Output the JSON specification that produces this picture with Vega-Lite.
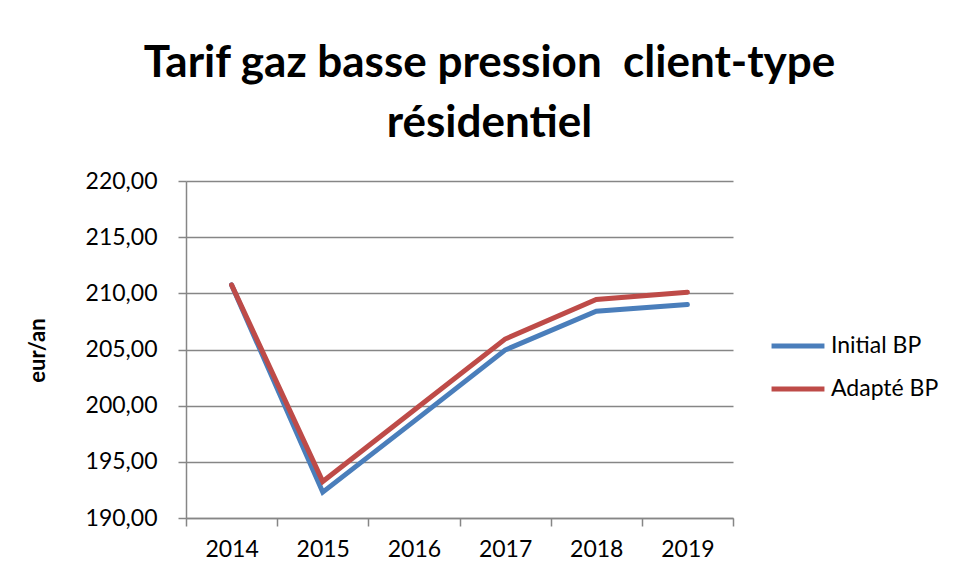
{
  "$schema": "https://vega.github.io/schema/vega-lite/v6.json",
  "autosize": {"type": "none"},
  "width": 547,
  "height": 337,
  "padding": {"left": 186, "top": 181, "right": 223, "bottom": 61},
  "background": "white",
  "title": {
    "text": ["Tarif gaz basse pression \u00a0client-type", "résidentiel"],
    "anchor": "middle",
    "frame": "group",
    "dx": 30,
    "offset": 24,
    "font": "Lato",
    "fontSize": 44,
    "fontWeight": "bold",
    "lineHeight": 60,
    "color": "black"
  },
  "data": {
    "values": [
      {"annee": "2014", "serie": "Initial BP", "valeur": 210.75},
      {"annee": "2015", "serie": "Initial BP", "valeur": 192.3},
      {"annee": "2016", "serie": "Initial BP", "valeur": 198.6},
      {"annee": "2017", "serie": "Initial BP", "valeur": 204.95},
      {"annee": "2018", "serie": "Initial BP", "valeur": 208.4},
      {"annee": "2019", "serie": "Initial BP", "valeur": 209.0},
      {"annee": "2014", "serie": "Adapté BP", "valeur": 210.75},
      {"annee": "2015", "serie": "Adapté BP", "valeur": 193.25},
      {"annee": "2016", "serie": "Adapté BP", "valeur": 199.6},
      {"annee": "2017", "serie": "Adapté BP", "valeur": 205.93},
      {"annee": "2018", "serie": "Adapté BP", "valeur": 209.45},
      {"annee": "2019", "serie": "Adapté BP", "valeur": 210.1}
    ]
  },
  "mark": {"type": "line", "strokeWidth": 5, "strokeCap": "round", "strokeJoin": "miter"},
  "encoding": {
    "x": {
      "field": "annee",
      "type": "ordinal",
      "bandPosition": 0.5,
      "scale": {"type": "band", "paddingInner": 0, "paddingOuter": 0},
      "axis": {
        "title": null,
        "labelAngle": 0,
        "tickBand": "extent",
        "tickSize": 8,
        "tickColor": "#868686",
        "tickWidth": 1.5,
        "domainColor": "#868686",
        "domainWidth": 1.5,
        "labelFont": "Lato",
        "labelFontSize": 23,
        "labelColor": "black",
        "labelPadding": 12,
        "grid": false
      }
    },
    "y": {
      "field": "valeur",
      "type": "quantitative",
      "scale": {"domain": [190, 220], "nice": false, "zero": false},
      "axis": {
        "title": "eur/an",
        "titleFont": "Lato",
        "titleFontSize": 22,
        "titleFontWeight": "bold",
        "titleColor": "black",
        "titleX": -149,
        "titleY": 169,
        "titleAngle": -90,
        "titleBaseline": "middle",
        "titleAlign": "center",
        "values": [190, 195, 200, 205, 210, 215, 220],
        "labelExpr": "replace(format(datum.value, '.2f'), '.', ',')",
        "labelFont": "Lato",
        "labelFontSize": 23,
        "labelColor": "black",
        "labelPadding": 21,
        "tickSize": 8,
        "tickColor": "#868686",
        "tickWidth": 1.5,
        "domainColor": "#868686",
        "domainWidth": 1.5,
        "grid": true,
        "gridColor": "#868686",
        "gridWidth": 1.5
      }
    },
    "color": {
      "field": "serie",
      "type": "nominal",
      "scale": {"domain": ["Initial BP", "Adapté BP"], "range": ["#4A7EBB", "#BE4B48"]},
      "legend": {
        "title": null,
        "orient": "none",
        "legendX": 583,
        "legendY": 136,
        "symbolType": "stroke",
        "symbolSize": 2800,
        "symbolStrokeWidth": 5,
        "labelFont": "Lato",
        "labelFontSize": 23,
        "labelColor": "black",
        "labelOffset": 4,
        "rowPadding": 2
      }
    }
  },
  "config": {"view": {"stroke": null}}
}
